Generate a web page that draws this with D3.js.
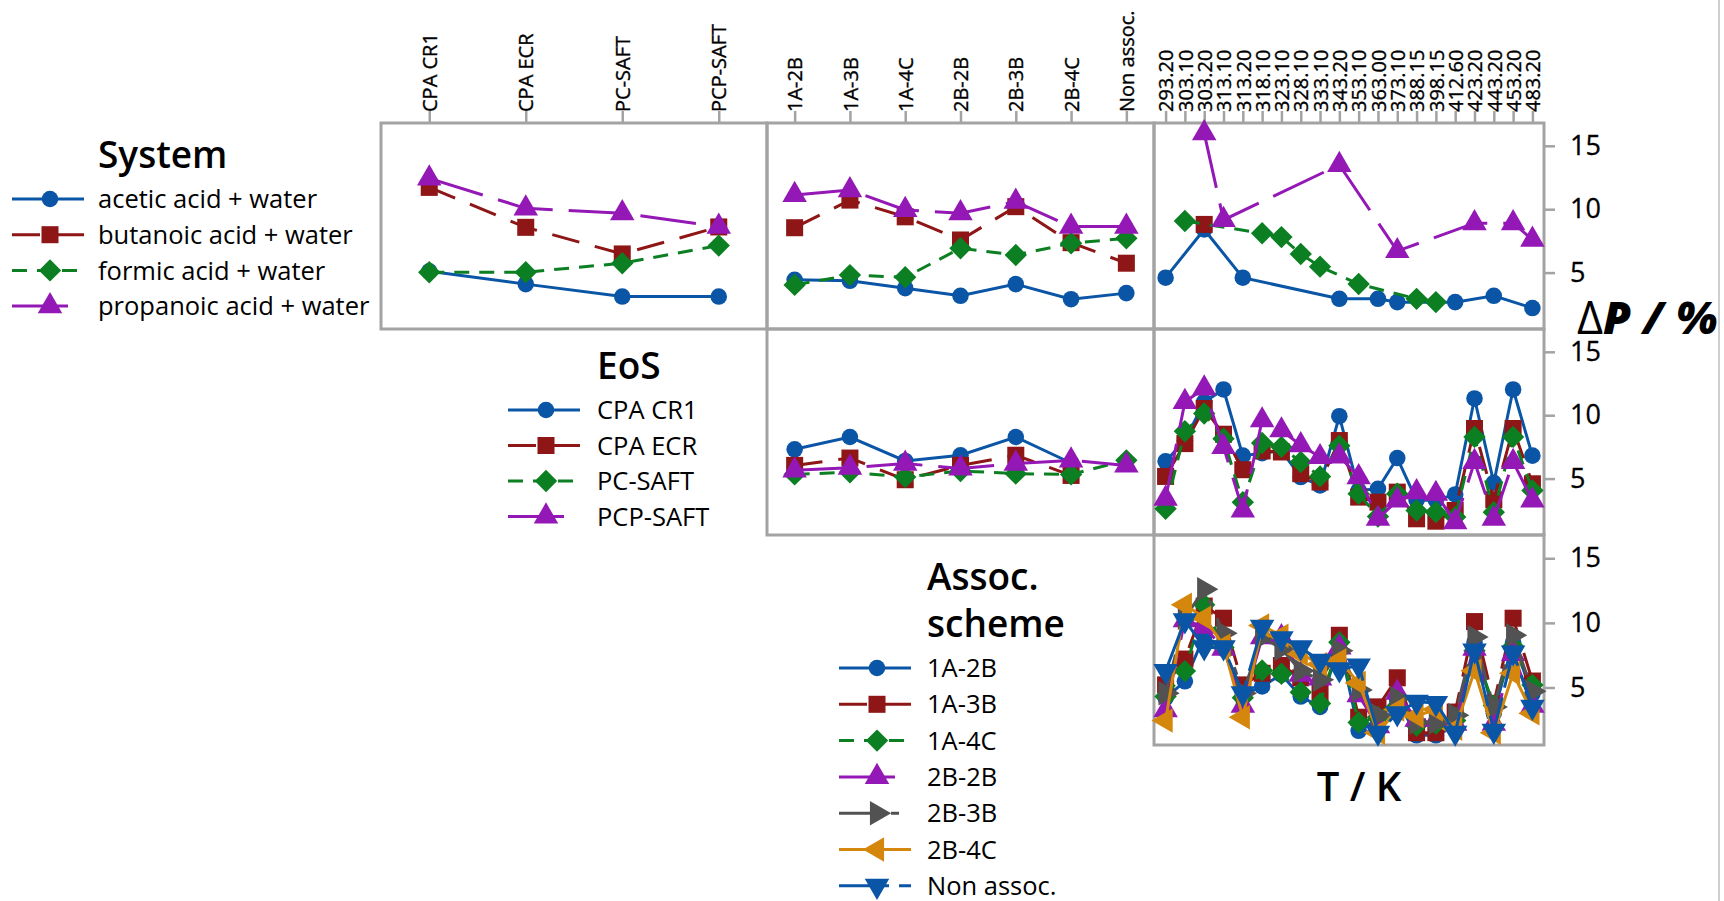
<!DOCTYPE html>
<html>
<head>
<meta charset="utf-8">
<script src="https://cdn.jsdelivr.net/npm/d3@7"></script>
<style>
body { margin: 0; background: #fff; }
svg text { font-family: "Open Sans", sans-serif; fill: #000; }
</style>
</head>
<body>
<div id="chart"></div>
<script>
// categories
const eosCats = ['CPA CR1', 'CPA ECR', 'PC-SAFT', 'PCP-SAFT'];
const schemeCats = ['1A-2B', '1A-3B', '1A-4C', '2B-2B', '2B-3B', '2B-4C', 'Non assoc.'];
const tempCats = ['293.20', '303.10', '303.20', '313.10', '313.20', '318.10', '323.10', '328.10', '333.10', '343.20',
    '353.10', '363.00', '373.10', '388.15', '398.15', '412.60', '423.20', '443.20', '453.20', '483.20'];

const systemNames = ['acetic acid + water', 'butanoic acid + water', 'formic acid + water', 'propanoic acid + water'];
const eosNames = ['CPA CR1', 'CPA ECR', 'PC-SAFT', 'PCP-SAFT'];
const schemeNames = ['1A-2B', '1A-3B', '1A-4C', '2B-2B', '2B-3B', '2B-4C', 'Non assoc.'];
const yTicks = [5, 10, 15];

// ΔP / % values, one row per series (null = no point)
const sysVsEos = [
    [5.1, 4.09, 3.11, 3.11],
    [11.72, 8.57, 6.47, 8.6],
    [5.03, 5.03, 5.74, 7.13],
    [12.43, 10.07, 9.68, 8.63]
];
const sysVsScheme = [
    [4.43, 4.35, 3.77, 3.17, 4.09, 2.9, 3.38],
    [8.54, 10.72, 9.4, 7.57, 10.2, 7.36, 5.74],
    [4.03, 4.8, 4.63, 6.92, 6.39, 7.31, 7.7],
    [11.12, 11.51, 9.94, 9.68, 10.59, 8.63, 8.63]
];
const sysVsTemp = [
    [4.6, null, 8.4, null, 4.6, null, null, null, null, 2.93, null, 2.93, 2.67, null, null, 2.67, null, 3.17, null, 2.2],
    [null, null, 8.8, null, null, null, null, null, null, null, null, null, null, null, null, null, null, null, null, null],
    [null, 9.07, null, null, null, 8.1, 7.8, 6.47, 5.47, null, 4.1, null, null, 2.93, 2.67, null, null, null, null, null],
    [null, null, 16.0, 9.15, null, null, null, null, null, 13.5, null, null, 6.7, null, null, null, 8.9, null, 8.9, 7.6]
];
const eosVsScheme = [
    [7.31, 8.28, 6.39, 6.84, 8.28, 6.23, null],
    [6.04, 6.62, 4.91, 6.04, 6.84, 5.25, null],
    [5.33, 5.5, 5.12, 5.6, 5.39, 5.33, 6.44],
    [5.65, 5.86, 6.18, 5.8, 6.18, 6.44, 6.04]
];
const eosVsTemp = [
    [6.36, 8.0, 11.05, 12.03, 6.81, 7.0, 7.2, 5.12, 4.46, 9.92, 4.07, 4.2, 6.62, 3.3, 3.3, 3.75, 11.32, 4.67, 12.03, 6.81],
    [5.17, 7.76, 10.53, 8.5, 5.7, 7.18, 7.1, 5.39, 4.73, 8.0, 3.54, 3.14, 3.93, 1.83, 1.64, 2.48, 8.95, 3.33, 8.95, 4.59],
    [2.62, 8.73, 10.13, 8.15, 3.14, 7.81, 7.5, 6.31, 5.17, 7.6, 3.8, 2.0, 3.8, 2.48, 2.35, 1.96, 8.29, 2.35, 8.29, 4.07],
    [3.41, 11.05, 12.11, 7.5, 2.48, 9.6, 8.81, 7.63, 6.7, 6.75, 5.12, 1.83, 3.28, 3.93, 3.8, 1.56, 6.31, 1.83, 6.31, 3.28]
];
const schemeVsTemp = [
    [4.2, 5.48, 9.0, 8.0, 4.4, 5.08, 6.0, 4.3, 3.5, 8.4, 1.65, 2.5, 4.0, 1.3, 1.3, 2.0, 8.5, 3.0, 8.5, 4.5],
    [5.2, 7.2, 11.3, 10.36, 5.2, 6.1, 6.7, 5.75, 4.55, 9.04, 2.7, 3.5, 5.75, 1.5, 1.5, 3.1, 10.1, 3.77, 10.36, 5.5],
    [4.3, 6.27, 11.4, 8.1, 4.2, 6.32, 6.06, 4.64, 3.77, 8.5, 2.3, 2.7, 4.3, 2.05, 2.2, 2.45, 7.85, 3.6, 8.2, 5.2],
    [3.25, 10.2, 9.7, 8.0, 3.6, 8.9, 8.9, 6.0, 5.7, 8.1, 4.4, 2.0, 4.6, 2.5, 2.5, 2.2, 8.0, 2.2, 7.6, 3.6],
    [4.55, 10.4, 12.6, 9.2, 4.55, 8.9, 8.0, 6.3, 5.6, 7.85, 4.8, 2.85, 4.16, 2.3, 2.3, 2.85, 8.9, 3.5, 9.04, 4.7],
    [2.45, 11.4, 10.4, 8.25, 2.7, 9.8, 9.0, 7.6, 6.8, 7.1, 5.35, 1.5, 3.3, 2.8, 3.3, 1.8, 6.3, 1.5, 6.1, 3.0],
    [6.27, 10.2, 8.1, 8.1, 4.55, 9.7, 8.8, 8.1, 7.06, 6.4, 6.7, 1.5, 3.0, 3.9, 3.8, 1.5, 7.85, 1.65, 7.7, 3.5]
];

// series styles
const stBlue = {color: '#0a55a5', shape: 'circle', dash: null};
const stRed = {color: '#8e1616', shape: 'square', dash: '28,16'};
const stGreen = {color: '#0b7f22', shape: 'diamond', dash: '15,10'};
const stPurple = {color: '#9418b5', shape: 'up', dash: '56,16'};
const stGray = {color: '#525252', shape: 'right', dash: '40,12,8,12'};
const stOrange = {color: '#d4870c', shape: 'left', dash: null};
const stNon = {color: '#0a55a5', shape: 'down', dash: '50,10'};
const fourStyles = [stBlue, stRed, stGreen, stPurple];
const schemeStyles = [stBlue, stRed, stGreen, stPurple, stGray, stOrange, stNon];

const W = 1724, H = 901;
const colX = [381, 767, 1154, 1544];
const rowY = [123, 329, 535, 745];
const yDomain = [0.55, 16.8];
const frame = '#a3a3a3';

const svg = d3.select('#chart').append('svg')
    .attr('width', W)
    .attr('height', H);

function markerPath(shape) {
    if (shape === 'circle') return d3.symbol(d3.symbolCircle, 215)();
    if (shape === 'square') return d3.symbol(d3.symbolSquare, 290)();
    if (shape === 'diamond') return d3.symbol(d3.symbolSquare, 250)();
    return d3.symbol(d3.symbolTriangle, 260)();
}
const markerRot = {circle: 0, square: 0, diamond: 45, up: 0, right: 90, down: 180, left: -90};

function drawMarker(g, st, x, y) {
    g.append('path')
        .attr('d', markerPath(st.shape))
        .attr('transform', `translate(${x},${y}) rotate(${markerRot[st.shape]})`)
        .attr('fill', st.color);
}

const panels = [
    {row: 0, col: 0, cats: eosCats, pad: 0.5, styles: fourStyles, values: sysVsEos},
    {row: 0, col: 1, cats: schemeCats, pad: 0.5, styles: fourStyles, values: sysVsScheme},
    {row: 0, col: 2, cats: tempCats, pad: 0.6, styles: fourStyles, values: sysVsTemp},
    {row: 1, col: 1, cats: schemeCats, pad: 0.5, styles: fourStyles, values: eosVsScheme},
    {row: 1, col: 2, cats: tempCats, pad: 0.6, styles: fourStyles, values: eosVsTemp},
    {row: 2, col: 2, cats: tempCats, pad: 0.6, styles: schemeStyles, values: schemeVsTemp}
];

panels.forEach(p => {
    p.x = d3.scalePoint().domain(p.cats).range([colX[p.col], colX[p.col + 1]]).padding(p.pad);
    p.y = d3.scaleLinear().domain(yDomain).range([rowY[p.row + 1], rowY[p.row]]);
});

// panel frames
const frame_g = svg.append('g');
panels.forEach(p => {
    frame_g.append('rect')
        .attr('x', colX[p.col])
        .attr('y', rowY[p.row])
        .attr('width', colX[p.col + 1] - colX[p.col])
        .attr('height', rowY[p.row + 1] - rowY[p.row])
        .attr('fill', 'none')
        .attr('stroke', frame)
        .attr('stroke-width', 3);
});

// top category axes
panels.filter(p => p.row === 0).forEach(p => {
    let ax = svg.append('g')
        .attr('transform', `translate(0, ${rowY[0]})`)
        .call(d3.axisTop(p.x).tickSize(12).tickSizeOuter(0));
    ax.attr('font-size', null).attr('font-family', null);
    ax.select('.domain').remove();
    ax.selectAll('.tick line').attr('stroke', frame).attr('stroke-width', 2.5);
    ax.selectAll('.tick text')
        .attr('transform', 'rotate(-90)')
        .attr('x', 11)
        .attr('y', 0)
        .attr('dy', '0.36em')
        .style('text-anchor', 'start')
        .style('font-size', '20px')
        .style('stroke', '#000')
        .style('stroke-width', 0.35);
});

// right value axes
panels.filter(p => p.col === 2).forEach(p => {
    let ax = svg.append('g')
        .attr('transform', `translate(${colX[3]}, 0)`)
        .call(d3.axisRight(p.y).tickValues(yTicks).tickSize(11).tickSizeOuter(0));
    ax.attr('font-size', null).attr('font-family', null);
    ax.select('.domain').remove();
    ax.selectAll('.tick line').attr('stroke', frame).attr('stroke-width', 2.5);
    ax.selectAll('.tick text')
        .attr('x', 26)
        .style('font-size', '27px')
        .style('stroke', '#000')
        .style('stroke-width', 0.3);
});

// series
panels.forEach(p => {
    let g = svg.append('g');
    p.values.forEach((vals, si) => {
        let st = p.styles[si];
        let pts = vals.map((v, i) => ({cat: p.cats[i], v: v})).filter(d => d.v !== null);
        let line = d3.line().x(d => p.x(d.cat)).y(d => p.y(d.v));
        g.append('path')
            .datum(pts)
            .attr('d', line)
            .attr('fill', 'none')
            .attr('stroke', st.color)
            .attr('stroke-width', 3)
            .attr('stroke-dasharray', st.dash);
        pts.forEach(d => drawMarker(g, st, p.x(d.cat), p.y(d.v)));
    });
});

// legends
function legend(title, names, styles, x0, yTitle, yFirst, step, titleX) {
    let g = svg.append('g');
    title.forEach((t, i) => {
        g.append('text')
            .attr('x', titleX)
            .attr('y', yTitle + i * 47)
            .attr('dy', '0.36em')
            .style('font-size', '37px')
            .style('font-weight', 600)
            .text(t);
    });
    names.forEach((n, i) => {
        let st = styles[i], y = yFirst + i * step;
        g.append('line')
            .attr('x1', x0).attr('x2', x0 + 72)
            .attr('y1', y).attr('y2', y)
            .attr('stroke', st.color)
            .attr('stroke-width', 3)
            .attr('stroke-dasharray', st.dash);
        drawMarker(g, st, x0 + 38, y);
        g.append('text')
            .attr('x', titleX)
            .attr('y', y)
            .attr('dy', '0.36em')
            .style('font-size', '25.5px')
            .text(n);
    });
}
legend(['System'], systemNames, fourStyles, 12, 155, 199, 35.7, 98);
legend(['EoS'], eosNames, fourStyles, 508, 366, 410, 35.5, 597);
legend(['Assoc.', 'scheme'], schemeNames, schemeStyles, 839, 577, 668, 36.3, 927);

// axis titles
svg.append('text')
    .attr('x', 1359).attr('y', 787)
    .attr('dy', '0.36em')
    .attr('text-anchor', 'middle')
    .style('font-size', '40px')
    .style('font-weight', 600)
    .text('T / K');

let dp = svg.append('text')
    .attr('x', 1577).attr('y', 318)
    .attr('dy', '0.36em')
    .style('font-size', '45px')
    .style('font-weight', 800);
dp.append('tspan').style('font-weight', 400).text('Δ');
dp.append('tspan').style('font-style', 'italic').text('P / %');

svg.append('line')
    .attr('x1', 1719).attr('x2', 1719)
    .attr('y1', 0).attr('y2', H)
    .attr('stroke', '#cfcfcf')
    .attr('stroke-width', 2);
</script>
</body>
</html>
